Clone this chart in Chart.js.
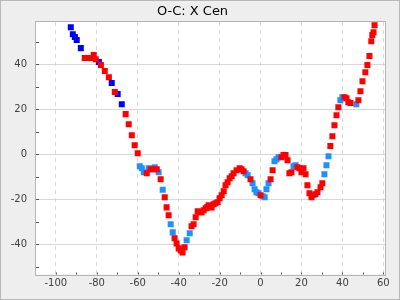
<!DOCTYPE html>
<html><head><meta charset="utf-8">
<script src="https://cdn.jsdelivr.net/npm/chart.js@4"></script>
<style>html,body{margin:0;padding:0;background:#eeeeee}#wrap{width:400px;height:300px}</style>
</head><body><div id="wrap"><canvas id="c" width="400" height="300"></canvas></div>
<script>
const titleText = 'O-C: X Cen';
const xTicks = [-100, -80, -60, -40, -20, 0, 20, 40, 60];
const yTicks = [-40, -20, 0, 20, 40];
const minorX = [-100, -90, -80, -70, -60, -50, -40, -30, -20, -10, 0, 10, 20, 30, 40, 50, 60];
const minorY = [-50, -40, -30, -20, -10, 0, 10, 20, 30, 40, 50];
const xRange = [-109.7, 60.8];
const yRange = [-53.4, 58.7];

const bluePts = [[-92.7,56.4],[-91.7,53.3],[-90.7,52.0],[-89.8,50.7],[-87.8,47.1],[-79.0,40.9],[-72.7,31.6],[-69.8,26.7],[-67.8,22.2]];

const lightBluePts = [[-59.0,-5.3],[-58.0,-6.2],[-57.0,-8.0],[-54.6,-6.2],[-51.7,-5.8],[-49.8,-8.0],[-47.8,-15.8],[-43.9,-31.1],[-42.9,-34.7],[-36.1,-38.2],[-34.6,-35.1],[-7.3,-8.4],[-6.3,-9.3],[-3.9,-12.9],[-2.9,-15.6],[-2.0,-16.9],[-1.0,-17.3],[1.0,-18.7],[2.0,-19.1],[2.9,-15.6],[3.9,-12.9],[6.8,-3.1],[7.8,-2.2],[8.8,-1.3],[16.1,-5.3],[17.1,-4.9],[25.9,-18.2],[31.2,-8.9],[32.2,-4.9],[33.2,-0.9],[39.0,24.0],[40.0,25.3],[46.8,22.2]];

const redPts = [[-85.9,42.7],[-83.9,42.7],[-82.9,42.7],[-81.5,44.0],[-80.5,42.2],[-78.0,39.6],[-76.1,36.9],[-74.1,34.2],[-71.2,27.6],[-65.9,17.8],[-64.4,13.3],[-62.9,8.4],[-61.5,4.0],[-60.0,0.4],[-55.6,-8.4],[-53.7,-6.7],[-52.2,-6.7],[-50.7,-6.7],[-48.8,-11.1],[-46.8,-19.1],[-45.9,-23.6],[-44.9,-27.1],[-42.0,-37.3],[-41.0,-39.6],[-40.0,-41.8],[-39.0,-42.7],[-38.1,-43.6],[-37.1,-41.3],[-33.7,-32.0],[-32.7,-31.1],[-31.7,-28.0],[-30.7,-25.3],[-29.8,-25.8],[-28.8,-25.8],[-27.8,-24.9],[-26.8,-24.0],[-26.1,-23.6],[-25.4,-22.7],[-23.9,-23.6],[-22.9,-22.2],[-22.0,-21.8],[-21.0,-21.3],[-20.0,-19.6],[-19.0,-18.2],[-18.0,-16.4],[-17.1,-13.8],[-16.1,-12.4],[-15.1,-10.7],[-14.1,-9.8],[-13.2,-8.4],[-11.7,-7.1],[-10.2,-6.2],[-9.3,-6.7],[-8.3,-7.6],[-4.9,-11.1],[0.0,-18.2],[4.9,-11.1],[5.9,-7.1],[10.2,-1.3],[11.2,-0.4],[12.2,-0.4],[13.2,-2.7],[14.1,-8.4],[15.1,-8.0],[18.0,-5.8],[19.0,-6.2],[20.0,-8.0],[21.0,-6.2],[22.0,-8.9],[22.9,-13.8],[23.9,-17.3],[24.9,-19.1],[26.8,-17.8],[27.8,-16.9],[29.3,-14.7],[30.2,-12.9],[34.1,3.6],[35.1,8.0],[36.1,12.9],[37.1,17.3],[38.0,20.9],[41.0,25.3],[42.0,24.9],[42.9,23.1],[43.9,22.7],[47.8,24.0],[48.8,28.0],[49.8,32.4],[51.2,36.4],[52.2,39.6],[53.2,43.6],[54.1,50.2],[54.6,52.9],[55.2,54.2],[55.7,57.3]];

const toXY = a => a.map(p => ({x: p[0], y: p[1]}));

const frame = {
  id: 'frame',
  beforeDraw(chart) {
    const {ctx, width, height, chartArea: a} = chart;
    ctx.save();
    ctx.fillStyle = '#eeeeee';
    ctx.fillRect(0, 0, width, height);
    ctx.strokeStyle = '#b8b8b8';
    ctx.lineWidth = 1;
    ctx.strokeRect(0.5, 0.5, width - 1, height - 1);
    ctx.fillStyle = '#ffffff';
    ctx.fillRect(a.left, a.top, a.right - a.left, a.bottom - a.top);
    ctx.restore();
  },
  afterDraw(chart) {
    const {ctx, chartArea: a, scales} = chart;
    ctx.save();
    ctx.strokeStyle = '#555555';
    ctx.lineWidth = 1;
    ctx.beginPath();
    minorX.forEach(v => {
      const px = Math.round(scales.x.getPixelForValue(v)) + 0.5;
      ctx.moveTo(px, a.bottom); ctx.lineTo(px, a.bottom - 2);
    });
    minorY.forEach(v => {
      const py = Math.round(scales.y.getPixelForValue(v)) + 0.5;
      ctx.moveTo(a.left, py); ctx.lineTo(a.left + 3, py);
    });
    ctx.stroke();
    ctx.strokeStyle = '#b4b4b4';
    ctx.strokeRect(Math.round(a.left) - 0.5, Math.round(a.top) - 0.5, Math.round(a.right - a.left) + 1, Math.round(a.bottom - a.top) + 1);
    ctx.restore();
  }
};

const ptOpts = {pointStyle: 'rect', pointRadius: 4.25, pointHoverRadius: 4.25, borderWidth: 0, pointBorderWidth: 0};

new Chart(document.getElementById('c'), {
  type: 'scatter',
  data: {
    datasets: [
      Object.assign({label: 'red', data: toXY(redPts), backgroundColor: '#ff0000', borderColor: '#ff0000'}, ptOpts),
      Object.assign({label: 'lightblue', data: toXY(lightBluePts), backgroundColor: '#1e90ff', borderColor: '#1e90ff'}, ptOpts),
      Object.assign({label: 'blue', data: toXY(bluePts), backgroundColor: '#0000ff', borderColor: '#0000ff'}, ptOpts)
    ]
  },
  options: {
    responsive: false,
    animation: false,
    events: [],
    layout: {padding: {left: 0, right: 15, top: 0, bottom: 0}},
    plugins: {
      legend: {display: false},
      tooltip: {enabled: false},
      title: {display: true, text: titleText, color: '#000000',
        font: {family: 'DejaVu Sans', size: 13, weight: 'normal'},
        padding: {top: 4, bottom: 2.4}}
    },
    scales: {
      x: {
        type: 'linear', min: xRange[0], max: xRange[1],
        afterBuildTicks: s => { s.ticks = xTicks.map(v => ({value: v})); },
        afterFit: s => { s.height = 25.5; },
        grid: {color: '#d8d8d8', drawTicks: false},
        border: {display: false, dash: [4, 4]},
        ticks: {color: '#404040', font: {family: 'DejaVu Sans', size: 10}, padding: 3, maxRotation: 0, autoSkip: false}
      },
      y: {
        type: 'linear', min: yRange[0], max: yRange[1],
        afterBuildTicks: s => { s.ticks = yTicks.map(v => ({value: v})); },
        afterFit: s => { s.width = 36; },
        grid: {color: '#d8d8d8', drawTicks: false},
        border: {display: false},
        ticks: {color: '#404040', font: {family: 'DejaVu Sans', size: 10}, padding: 9, autoSkip: false}
      }
    }
  },
  plugins: [frame]
});
</script>
</body></html>
